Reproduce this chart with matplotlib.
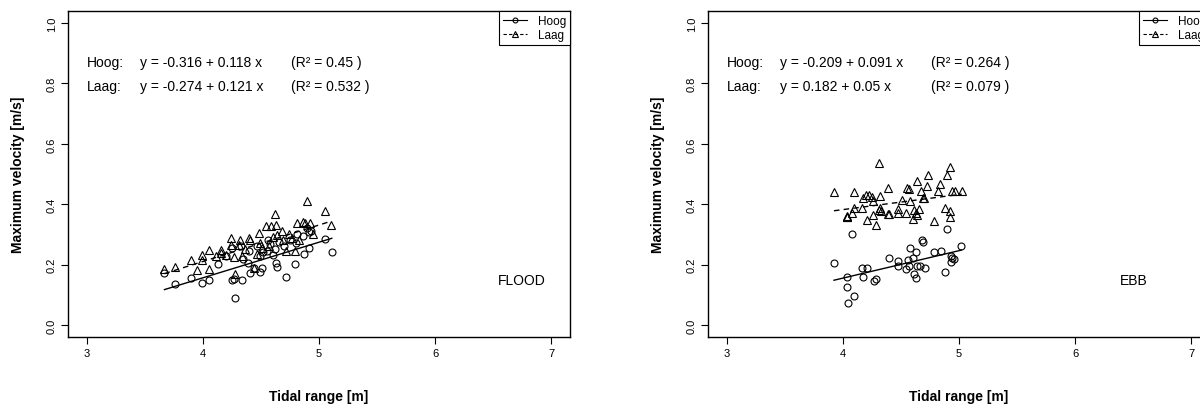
import matplotlib
matplotlib.use("Agg")
import matplotlib.pyplot as plt
from matplotlib.lines import Line2D
import numpy as np

plt.rcParams['font.family'] = ['Liberation Sans', 'DejaVu Sans']

# ---- FLOOD: tidal range [m] vs maximum velocity [m/s]
flood_hoog_x = [3.67, 3.76, 3.90, 3.99, 4.05, 4.13, 4.25, 4.27, 4.34, 4.28, 4.39, 4.41,
                4.44, 4.49, 4.51, 4.49, 4.63, 4.64, 4.72, 4.79, 4.87, 4.91, 5.11, 5.05,
                4.91, 4.81, 4.25, 4.33, 4.40, 4.47, 4.55, 4.58, 4.62, 4.66, 4.70, 4.75,
                4.80, 4.86, 4.90, 4.93, 4.60, 4.52, 4.35, 4.20, 4.56]
flood_hoog_y = [0.172, 0.137, 0.154, 0.140, 0.149, 0.201, 0.150, 0.152, 0.149, 0.090, 0.204, 0.173,
                0.190, 0.175, 0.190, 0.227, 0.206, 0.192, 0.159, 0.202, 0.234, 0.254, 0.240, 0.285,
                0.307, 0.301, 0.255, 0.262, 0.245, 0.260, 0.245, 0.268, 0.250, 0.275, 0.262, 0.280,
                0.270, 0.295, 0.320, 0.310, 0.233, 0.240, 0.220, 0.230, 0.280]
flood_laag_x = [3.67, 3.76, 3.90, 3.95, 3.99, 3.99, 4.05, 4.05, 4.16, 4.16, 4.20, 4.245,
                4.27, 4.28, 4.32, 4.34, 4.395, 4.41, 4.48, 4.49, 4.44, 4.54, 4.585, 4.62,
                4.63, 4.64, 4.69, 4.72, 4.77, 4.79, 4.81, 4.86, 4.88, 4.90, 4.92, 5.05,
                5.10, 4.245, 4.315, 4.51, 4.57, 4.60, 4.68, 4.74, 4.83, 4.95, 4.47, 4.36, 4.11]
flood_laag_y = [0.185, 0.191, 0.215, 0.181, 0.216, 0.233, 0.186, 0.247, 0.248, 0.238, 0.232, 0.287,
                0.224, 0.168, 0.283, 0.227, 0.287, 0.280, 0.304, 0.272, 0.189, 0.327, 0.327, 0.367,
                0.332, 0.299, 0.280, 0.244, 0.288, 0.244, 0.338, 0.340, 0.338, 0.410, 0.338, 0.379,
                0.331, 0.265, 0.265, 0.255, 0.260, 0.290, 0.310, 0.300, 0.280, 0.300, 0.235, 0.250, 0.230]

# ---- EBB
ebb_hoog_x = [3.924, 4.033, 4.036, 4.048, 4.096, 4.076, 4.165, 4.206, 4.177, 4.266, 4.289, 4.395,
              4.475, 4.475, 4.541, 4.558, 4.573, 4.578, 4.607, 4.627, 4.613, 4.630, 4.636, 4.664,
              4.679, 4.687, 4.710, 4.785, 4.842, 4.880, 4.900, 4.928, 4.937, 4.931, 4.957, 5.020]
ebb_hoog_y = [0.204, 0.160, 0.124, 0.074, 0.096, 0.301, 0.190, 0.190, 0.160, 0.145, 0.152, 0.222,
              0.212, 0.196, 0.185, 0.214, 0.196, 0.256, 0.221, 0.240, 0.169, 0.155, 0.194, 0.194,
              0.282, 0.276, 0.189, 0.243, 0.246, 0.174, 0.318, 0.230, 0.222, 0.210, 0.219, 0.262]
ebb_laag_x = [3.924, 4.033, 4.036, 4.040, 4.076, 4.096, 4.100, 4.165, 4.177, 4.206, 4.200, 4.225,
              4.250, 4.263, 4.263, 4.286, 4.312, 4.315, 4.320, 4.325, 4.320, 4.392, 4.392, 4.400,
              4.475, 4.475, 4.513, 4.541, 4.556, 4.566, 4.578, 4.601, 4.613, 4.630, 4.636, 4.641,
              4.659, 4.676, 4.690, 4.700, 4.722, 4.736, 4.785, 4.822, 4.837, 4.880, 4.900, 4.923,
              4.923, 4.923, 4.937, 4.963, 5.023]
ebb_laag_y = [0.442, 0.359, 0.356, 0.361, 0.371, 0.439, 0.386, 0.386, 0.419, 0.349, 0.430, 0.432,
              0.425, 0.412, 0.364, 0.331, 0.536, 0.382, 0.389, 0.376, 0.428, 0.452, 0.367, 0.369,
              0.384, 0.371, 0.415, 0.371, 0.452, 0.449, 0.412, 0.351, 0.382, 0.371, 0.364, 0.478,
              0.384, 0.445, 0.419, 0.421, 0.461, 0.497, 0.343, 0.445, 0.467, 0.386, 0.497, 0.524,
              0.378, 0.359, 0.445, 0.445, 0.445]

# Regression coefficients (intercept, slope, R²)
flood_fit = {"Hoog": (-0.316, 0.118, 0.45), "Laag": (-0.274, 0.121, 0.532)}
ebb_fit = {"Hoog": (-0.209, 0.091, 0.264), "Laag": (0.182, 0.05, 0.079)}

x_ticks = [3, 4, 5, 6, 7]
y_ticks = [0.0, 0.2, 0.4, 0.6, 0.8, 1.0]

W, H = 1200, 410
fig = plt.figure(figsize=(W / 100, H / 100), dpi=100)

ax_w, ax_h = 502 / W, 326 / H
ax_b = 72 / H
ax_flood = fig.add_axes([68 / W, ax_b, ax_w, ax_h])
ax_ebb = fig.add_axes([708 / W, ax_b, ax_w, ax_h])


def fit_line(ax, xs, fit, ls):
    a, b, _ = fit
    xr = np.array([min(xs), max(xs)])
    ax.plot(xr, a + b * xr, color='black', lw=1.0, ls=ls)


def panel(ax, hx, hy, lx, ly, fits, tag, tag_x):
    ax.plot(hx, hy, 'o', ms=5, mfc='none', mec='black', mew=0.8, ls='none')
    ax.plot(lx, ly, '^', ms=5.8, mfc='none', mec='black', mew=0.8, ls='none')
    fit_line(ax, hx, fits["Hoog"], '-')
    fit_line(ax, lx, fits["Laag"], (0, (4, 3)))

    ax.set_xlim(2.84, 7.16)
    ax.set_ylim(-0.04, 1.04)
    ax.set_xticks(x_ticks)
    ax.set_xticklabels([str(t) for t in x_ticks])
    ax.set_yticks(y_ticks)
    ax.set_yticklabels([f"{t:.1f}" for t in y_ticks], rotation=90, va='center')
    ax.tick_params(direction='out', length=5, width=0.8, labelsize=8, pad=3)
    for s in ax.spines.values():
        s.set_linewidth(1.0)

    ax.set_xlabel('Tidal range [m]', fontsize=10, fontweight='bold')
    ax.set_ylabel('Maximum velocity [m/s]', fontsize=10, fontweight='bold')
    ax.xaxis.set_label_coords(0.5, -0.16)
    ax.yaxis.set_label_coords(-0.086, 0.5)

    for name, yy in (("Hoog", 0.87), ("Laag", 0.79)):
        a, b, r2 = fits[name]
        ax.text(3.0, yy, f"{name}:", fontsize=10, va='center', ha='left')
        ax.text(3.46, yy, f"y = {a:g} + {b:g} x", fontsize=10, va='center', ha='left')
        ax.text(4.76, yy, f"(R\u00b2 = {r2:g} )", fontsize=10, va='center', ha='left')

    ax.text(tag_x, 0.15, tag, fontsize=10, va='center', ha='center')

    handles = [Line2D([], [], color='black', lw=0.8, ls='-', marker='o', ms=3.5,
                      mfc='none', mew=0.8),
               Line2D([], [], color='black', lw=0.8, ls=(0, (3, 2)), marker='^', ms=4,
                      mfc='none', mew=0.8)]
    leg = ax.legend(handles, ["Hoog", "Laag"], loc='upper right', borderaxespad=0,
                    fontsize=8.5, handlelength=2.0, handletextpad=0.9, borderpad=0.35,
                    labelspacing=0.15, fancybox=False, framealpha=1, edgecolor='black')
    leg.get_frame().set_linewidth(0.8)


panel(ax_flood, flood_hoog_x, flood_hoog_y, flood_laag_x, flood_laag_y,
      flood_fit, "FLOOD", 6.745)
panel(ax_ebb, ebb_hoog_x, ebb_hoog_y, ebb_laag_x, ebb_laag_y,
      ebb_fit, "EBB", 6.5)

fig.savefig('out.png', dpi=100)
